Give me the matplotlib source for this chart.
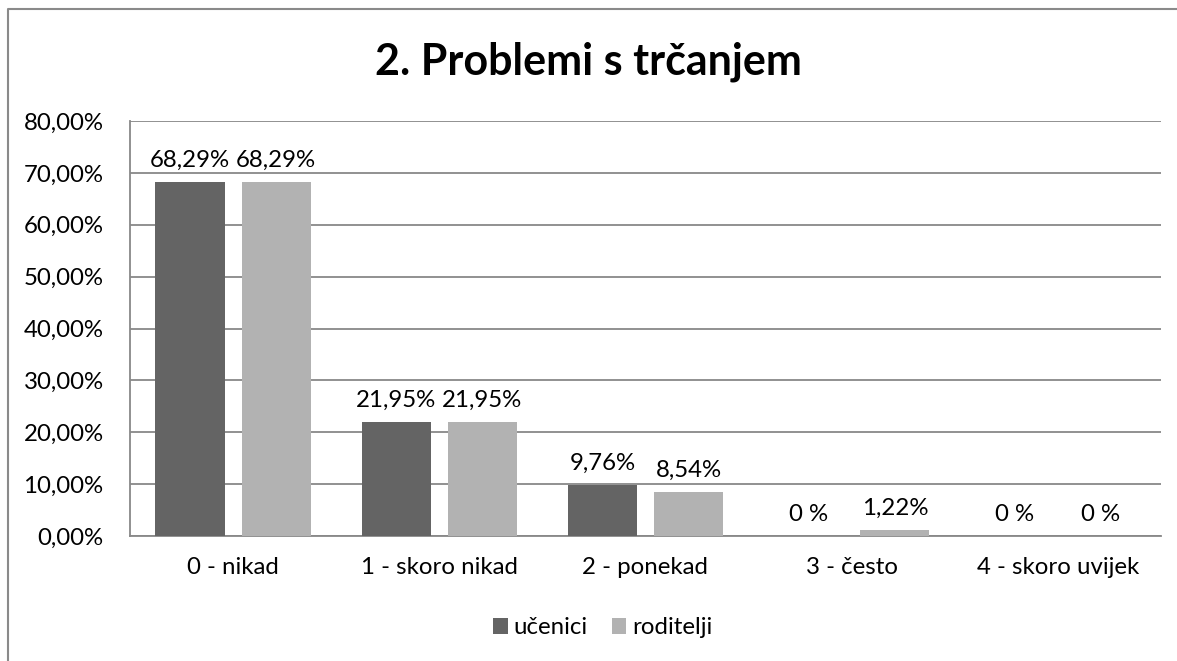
import numpy as np
from matplotlib import pyplot as plt
from matplotlib.lines import Line2D

categories = ['0 - nikad', '1 - skoro nikad', '2 - ponekad', '3 - često', '4 - skoro uvijek']
ucenici = [68.29, 21.95, 9.76, 0, 0]
roditelji = [68.29, 21.95, 8.54, 1.22, 0]
series_names = ['učenici', 'roditelji']
y_ticks = [0, 10, 20, 30, 40, 50, 60, 70, 80]

DARK = '#646464'
LIGHT = '#b2b2b2'
GRID = '#888888'

plt.rcParams['font.family'] = ['Lato', 'DejaVu Sans']


def pct_label(v):
    if v == 0:
        return '0 %'
    return f'{v:.2f}%'.replace('.', ',')


fig = plt.figure(figsize=(11.77, 6.61), dpi=100)
ax = fig.add_axes([130 / 1177, 1 - 536 / 661, (1161 - 130) / 1177, (536 - 121) / 661])

x = np.arange(len(categories))
w = 0.335
off = 0.209
b1 = ax.bar(x - off, ucenici, w, color=DARK, label=series_names[0], zorder=3)
b2 = ax.bar(x + off, roditelji, w, color=LIGHT, label=series_names[1], zorder=3)

for bars, vals in ((b1, ucenici), (b2, roditelji)):
    for rect, v in zip(bars, vals):
        ax.annotate(pct_label(v), (rect.get_x() + rect.get_width() / 2, v),
                    xytext=(0, 8), textcoords='offset points',
                    ha='center', va='bottom', fontsize=17.3)

ax.set_xlim(-0.5, len(categories) - 0.5)
ax.set_ylim(0, 80)
ax.set_yticks(y_ticks)
ax.set_yticklabels([f'{t:.2f}%'.replace('.', ',') for t in y_ticks])
ax.set_xticks(x)
ax.set_xticklabels(categories)
ax.tick_params(axis='both', length=0, labelsize=17.3)
ax.tick_params(axis='y', pad=19)
ax.tick_params(axis='x', pad=15)
ax.yaxis.grid(True, color=GRID, lw=1.3, zorder=0)
for s in ('top', 'right'):
    ax.spines[s].set_visible(False)
for s in ('left', 'bottom'):
    ax.spines[s].set_color(GRID)
    ax.spines[s].set_linewidth(1.3)

fig.text(588 / 1177, 1 - 62 / 661, '2. Problemi s trčanjem', ha='center', va='center',
         fontsize=31, fontweight='bold')

leg = fig.legend(loc='center', bbox_to_anchor=(603 / 1177, 1 - 628 / 661), ncol=2,
                 frameon=False, fontsize=17.3, handlelength=0.6, handleheight=0.6,
                 handletextpad=0.25, columnspacing=1.0)

# outer chart frame (only top and left edge visible)
bx = 8 / 1177
by = 1 - 9 / 661
fig.add_artist(Line2D([bx, bx, 1], [0, by, by], color='#8a8a8a', lw=1.5))

fig.savefig('out.png', dpi=100)
